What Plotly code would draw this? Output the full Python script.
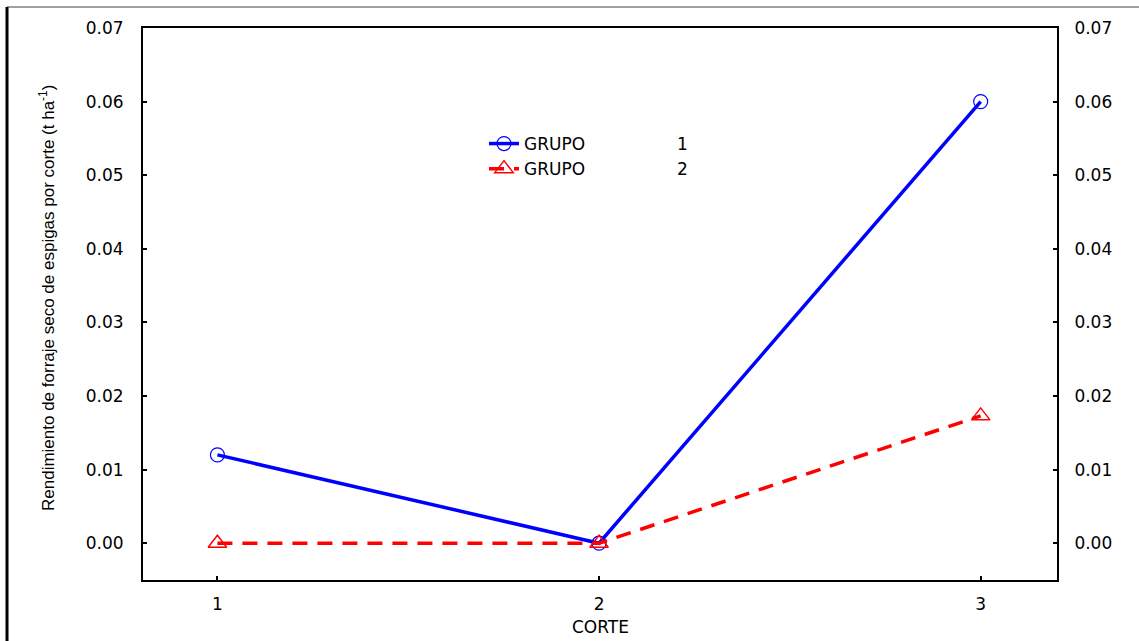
import plotly.graph_objects as go

cortes = [1, 2, 3]
grupo1 = [0.012, 0.0, 0.060]
grupo2 = [0.0, 0.0, 0.0173]
y_ticks = [0.00, 0.01, 0.02, 0.03, 0.04, 0.05, 0.06, 0.07]
y_tick_labels = ["0.00", "0.01", "0.02", "0.03", "0.04", "0.05", "0.06", "0.07"]

W, H = 1139, 641
L, R, T, B = 143, 1057, 28, 580
PW, PH = R - L, B - T

def px(x):
    return (x - L) / PW

def py(y):
    return (B - y) / PH

SP = "&nbsp;" * 17

fig = go.Figure()
fig.add_trace(go.Scatter(
    x=cortes, y=grupo1, mode="lines+markers",
    name="GRUPO" + SP + "1",
    line=dict(color="#0000ff", width=3.5),
    marker=dict(symbol="circle-open", size=14, color="#0000ff", line=dict(width=1.2)),
))
fig.add_trace(go.Scatter(
    x=cortes, y=grupo2, mode="lines+markers",
    name="GRUPO" + SP + "2",
    line=dict(color="#ff0000", width=3.5, dash="15px,10px"),
    marker=dict(symbol="triangle-up-open", size=16, color="#ff0000", line=dict(width=1.5)),
))
# invisible trace to carry the right axis
fig.add_trace(go.Scatter(x=cortes, y=grupo1, yaxis="y2", mode="lines", opacity=0,
                         showlegend=False, hoverinfo="skip"))

tickfont = dict(family="DejaVu Sans", size=17, color="black")
common_y = dict(range=[-0.005, 0.07], tickvals=y_ticks, ticktext=y_tick_labels,
                ticks="inside", ticklen=4, tickcolor="black", tickwidth=1.5,
                showgrid=False, zeroline=False, showline=True, linecolor="black",
                linewidth=2, tickfont=tickfont, automargin=False)

fig.update_layout(
    width=W, height=H,
    margin=dict(l=L, r=W - R, t=T, b=H - B, autoexpand=False),
    plot_bgcolor="white", paper_bgcolor="white",
    xaxis=dict(range=[0.805, 3.2], tickvals=cortes, ticktext=["1", "2", "3"],
               ticks="inside", ticklen=4, tickcolor="black", tickwidth=1.5,
               showgrid=False, zeroline=False, showline=True, linecolor="black",
               linewidth=2, mirror=True, tickfont=tickfont, ticklabelstandoff=8,
               automargin=False),
    yaxis=dict(**common_y, mirror=True, ticklabelstandoff=14),
    yaxis2=dict(**common_y, overlaying="y", side="right", ticklabelstandoff=12),
    legend=dict(x=px(484), y=py(126), xanchor="left", yanchor="top",
                bgcolor="rgba(0,0,0,0)", font=dict(family="DejaVu Sans", size=17, color="black"),
                tracegroupgap=0, itemwidth=30),
    showlegend=True,
    annotations=[
        dict(text="CORTE", xref="paper", yref="paper", x=px(600), y=py(627),
             xanchor="center", yanchor="middle", showarrow=False,
             font=dict(family="DejaVu Sans", size=17, color="black")),
        dict(text="Rendimiento de forraje seco de espigas por corte (t ha<sup>-1</sup>)",
             xref="paper", yref="paper", x=px(47), y=py(298), textangle=-90,
             xanchor="center", yanchor="middle", showarrow=False,
             font=dict(family="Liberation Sans Narrow, Arial Narrow, Liberation Sans",
                       size=17, color="black")),
    ],
    shapes=[
        dict(type="line", xref="paper", yref="paper",
             x0=px(7), x1=px(W), y0=py(7), y1=py(7),
             line=dict(color="#808080", width=1.5)),
        dict(type="line", xref="paper", yref="paper",
             x0=px(7), x1=px(7), y0=py(7), y1=py(H),
             line=dict(color="black", width=3)),
    ],
)

fig.write_html("out.html")
